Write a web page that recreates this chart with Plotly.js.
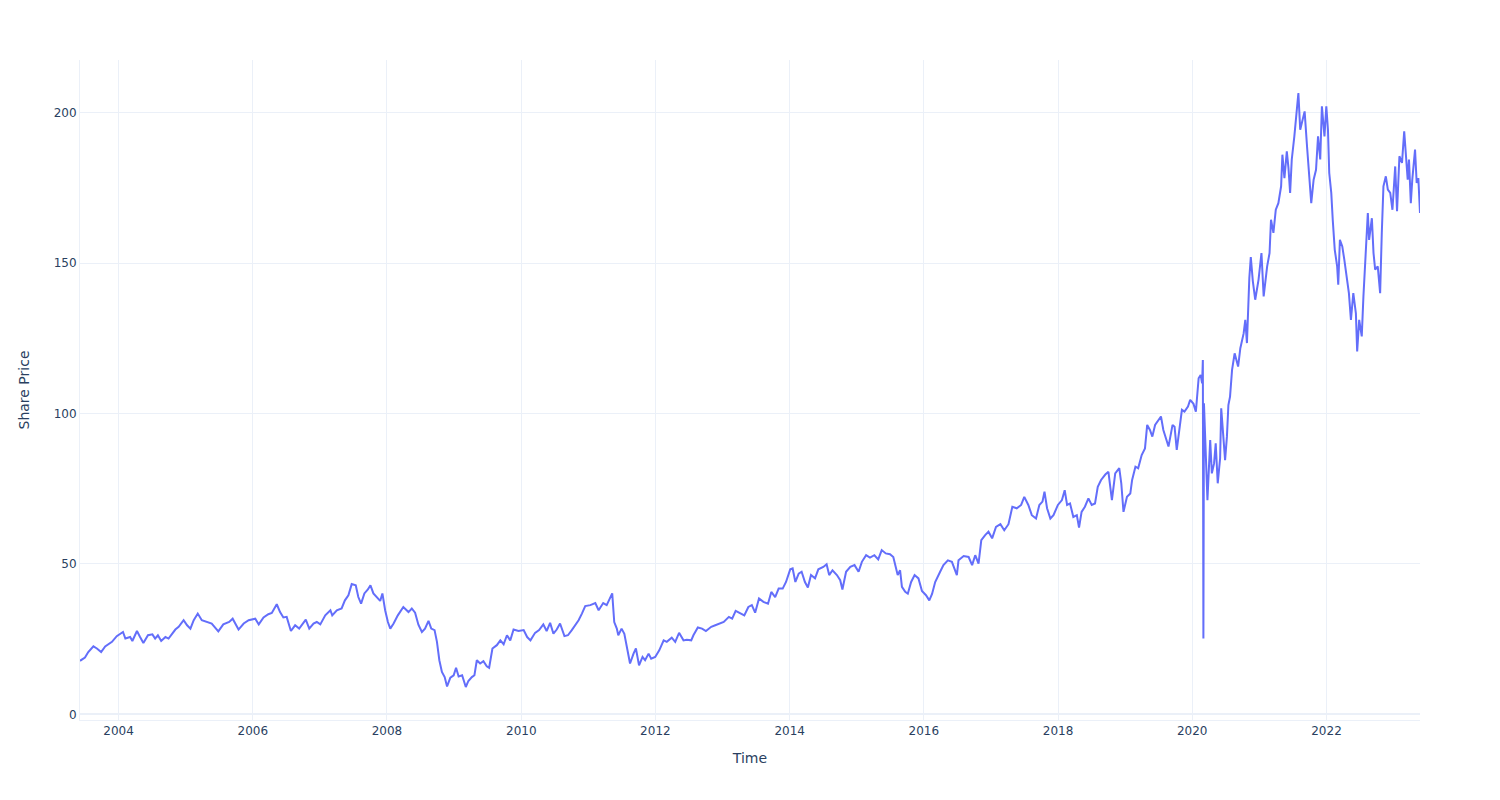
<!DOCTYPE html>
<html>
<head>
<meta charset="utf-8">
<script src="https://cdn.plot.ly/plotly-3.0.1.min.js"></script>
<style>html,body{margin:0;padding:0;background:#fff}#chart{width:1500px;height:800px}</style>
</head>
<body>
<div id="chart"></div>
<script>
const dates = [
"2003-06-05","2003-07-02","2003-07-20","2003-08-17","2003-09-05","2003-09-28","2003-10-20","2003-11-07","2003-11-26","2003-12-22",
"2004-01-25","2004-02-07","2004-03-04","2004-03-16","2004-04-10","2004-04-27","2004-05-15","2004-06-09","2004-07-03","2004-07-18",
"2004-08-02","2004-08-20","2004-09-12","2004-09-29","2004-10-18","2004-11-05","2004-11-23","2004-12-20","2005-01-08","2005-01-26",
"2005-02-13","2005-03-07","2005-03-29","2005-04-25","2005-05-22","2005-06-27","2005-07-24","2005-08-25","2005-09-13","2005-10-15",
"2005-11-12","2005-12-09","2006-01-14","2006-02-02","2006-02-28","2006-03-26","2006-04-14","2006-05-11","2006-05-29","2006-06-16",
"2006-07-04","2006-07-27","2006-08-19","2006-09-10","2006-09-25","2006-10-16","2006-11-04","2006-11-27","2006-12-15","2007-01-03",
"2007-01-30","2007-02-27","2007-03-09","2007-04-03","2007-04-29","2007-05-17","2007-06-05","2007-06-23","2007-07-15","2007-07-29",
"2007-08-13","2007-08-31","2007-09-19","2007-10-03","2007-10-19","2007-11-07","2007-11-25","2007-12-07","2007-12-22","2008-01-06",
"2008-01-19","2008-02-06","2008-02-29","2008-03-30","2008-04-27","2008-05-15","2008-06-02","2008-06-20","2008-07-09","2008-07-26",
"2008-08-14","2008-08-29","2008-09-16","2008-09-29","2008-10-12","2008-10-26","2008-11-10","2008-11-23","2008-12-11","2008-12-29",
"2009-01-11","2009-01-25","2009-02-13","2009-03-05","2009-03-19","2009-04-07","2009-04-21","2009-05-04","2009-05-22","2009-06-09",
"2009-06-27","2009-07-10","2009-07-28","2009-08-21","2009-09-09","2009-09-27","2009-10-15","2009-11-02","2009-11-20","2009-12-17",
"2010-01-14","2010-02-02","2010-02-20","2010-03-17","2010-04-08","2010-05-01","2010-05-19","2010-06-07","2010-06-25","2010-07-13",
"2010-07-31","2010-08-24","2010-09-12","2010-10-03","2010-10-21","2010-11-09","2010-11-27","2010-12-15","2011-01-12","2011-02-08",
"2011-02-26","2011-03-23","2011-04-11","2011-04-29","2011-05-11","2011-05-22","2011-06-05","2011-06-13","2011-07-01","2011-07-16",
"2011-07-29","2011-08-16","2011-09-04","2011-09-17","2011-10-04","2011-10-23","2011-11-06","2011-11-25","2011-12-09","2011-12-31",
"2012-01-22","2012-02-15","2012-03-03","2012-03-30","2012-04-18","2012-05-09","2012-06-02","2012-06-20","2012-07-14","2012-07-26",
"2012-08-19","2012-09-11","2012-10-02","2012-10-31","2012-11-22","2012-12-19","2013-01-07","2013-02-04","2013-02-22","2013-03-13",
"2013-04-06","2013-04-29","2013-05-21","2013-06-09","2013-06-27","2013-07-18","2013-08-11","2013-09-05","2013-09-23","2013-10-14",
"2013-11-02","2013-11-24","2013-12-12","2014-01-04","2014-01-17","2014-02-01","2014-02-19","2014-03-07","2014-03-25","2014-04-10",
"2014-04-27","2014-05-19","2014-06-06","2014-07-03","2014-07-21","2014-08-04","2014-08-22","2014-09-15","2014-10-03","2014-10-15",
"2014-11-04","2014-11-27","2014-12-20","2015-01-11","2015-01-29","2015-02-21","2015-03-14","2015-04-07","2015-04-28","2015-05-17",
"2015-06-08","2015-07-01","2015-07-19","2015-07-28","2015-08-12","2015-08-25","2015-09-04","2015-09-22","2015-10-06","2015-10-24",
"2015-11-12","2015-12-03","2015-12-22","2016-01-13","2016-01-31","2016-02-15","2016-03-03","2016-03-30","2016-04-17","2016-05-11",
"2016-06-02","2016-06-29","2016-07-08","2016-08-05","2016-09-01","2016-09-20","2016-10-07","2016-10-25","2016-11-09","2016-11-30",
"2016-12-18","2017-01-07","2017-01-28","2017-02-21","2017-03-14","2017-04-06","2017-04-27","2017-05-21","2017-06-14","2017-07-01",
"2017-07-23","2017-08-11","2017-09-03","2017-09-21","2017-10-08","2017-10-19","2017-11-02","2017-11-20","2017-12-07","2017-12-31",
"2018-01-22","2018-02-06","2018-02-19","2018-03-07","2018-03-25","2018-04-13","2018-04-25","2018-05-09","2018-05-27","2018-06-15",
"2018-07-03","2018-07-21","2018-08-05","2018-08-23","2018-09-15","2018-10-02","2018-10-21","2018-11-08","2018-11-30","2018-12-11",
"2018-12-23","2019-01-11","2019-01-29","2019-02-08","2019-02-26","2019-03-13","2019-04-01","2019-04-19","2019-05-01","2019-05-16",
"2019-05-29","2019-06-13","2019-06-30","2019-07-15","2019-07-28","2019-08-16","2019-08-25","2019-09-16","2019-09-27","2019-10-09",
"2019-10-22","2019-11-06","2019-11-20","2019-12-09","2019-12-21","2020-01-08","2020-01-21","2020-02-05","2020-02-16","2020-02-24",
"2020-02-28","2020-03-02","2020-03-05","2020-03-24","2020-04-08","2020-04-17","2020-04-29","2020-05-08","2020-05-19","2020-06-01",
"2020-06-07","2020-06-19","2020-06-28","2020-07-08","2020-07-16","2020-07-25","2020-08-05","2020-08-19","2020-09-07","2020-09-19",
"2020-10-07","2020-10-16","2020-10-25","2020-11-07","2020-11-15","2020-11-26","2020-12-09","2020-12-27","2021-01-12","2021-01-24",
"2021-02-12","2021-02-25","2021-03-05","2021-03-18","2021-03-31","2021-04-14","2021-04-29","2021-05-06","2021-05-17","2021-05-30",
"2021-06-08","2021-06-17","2021-06-26","2021-07-10","2021-07-23","2021-08-01","2021-08-11","2021-08-20","2021-09-04","2021-09-17",
"2021-09-26","2021-10-10","2021-10-23","2021-11-05","2021-11-16","2021-11-28","2021-12-07","2021-12-21","2021-12-31","2022-01-09",
"2022-01-16","2022-01-27","2022-02-04","2022-02-15","2022-02-28","2022-03-06","2022-03-15","2022-03-28","2022-04-08","2022-04-21",
"2022-05-03","2022-05-14","2022-05-27","2022-06-10","2022-06-17","2022-06-28","2022-07-12","2022-07-21","2022-08-03","2022-08-14",
"2022-08-21","2022-09-05","2022-09-14","2022-09-23","2022-10-07","2022-10-20","2022-10-29","2022-11-07","2022-11-20","2022-12-01",
"2022-12-14","2022-12-26","2023-01-10","2023-01-20","2023-02-02","2023-02-16","2023-02-28","2023-03-08","2023-03-19","2023-03-26",
"2023-04-05","2023-04-13","2023-04-28","2023-05-07","2023-05-16","2023-05-25"
];
const prices = [
17.8,18.9,20.7,22.6,21.9,20.7,22.6,23.3,24.1,26.0,
27.4,25.2,25.7,24.4,27.7,25.7,23.7,26.3,26.6,25.2,
26.3,24.4,25.7,25.2,26.9,28.2,29.1,31.3,29.6,28.5,
31.3,33.5,31.3,30.7,30.2,27.6,29.9,30.7,31.8,28.2,
30.2,31.3,31.8,29.9,32.2,33.3,33.7,36.6,34.0,32.2,
32.4,27.7,29.6,28.5,29.6,31.5,28.5,30.2,30.7,29.9,
32.9,34.6,32.9,34.6,35.2,37.9,39.6,43.3,42.9,39.0,
36.8,40.2,41.5,42.9,40.2,39.0,37.7,40.2,34.6,30.7,
28.5,30.2,32.9,35.7,34.0,35.2,33.8,29.8,27.4,28.5,
31.1,28.5,28.0,24.1,18.0,14.1,12.4,9.3,12.2,13.0,
15.5,12.6,13.0,9.1,11.1,12.4,13.0,18.0,16.9,17.7,
16.0,15.5,21.9,23.0,24.6,23.3,26.3,24.6,28.2,27.7,
28.0,25.7,24.6,27.1,28.0,29.9,27.7,30.4,26.8,28.2,
30.2,26.0,26.3,28.0,29.6,31.3,33.5,36.0,36.3,37.0,
34.6,37.0,36.3,39.0,40.2,30.7,28.5,26.3,28.5,26.8,
22.4,16.9,20.2,21.9,16.3,19.1,18.0,20.2,18.5,19.1,
21.3,24.6,24.1,25.5,24.1,27.1,24.6,24.8,24.6,26.3,
28.9,28.5,27.7,29.1,29.6,30.2,30.7,32.4,31.8,34.4,
33.5,32.9,35.7,36.3,33.8,38.5,37.4,36.8,40.7,39.0,
41.8,41.8,44.0,48.2,48.5,44.0,46.8,47.4,44.0,42.2,
46.3,45.2,48.2,49.0,49.9,46.3,47.9,46.3,44.6,41.5,
47.4,49.0,49.6,47.4,50.7,52.9,52.1,52.9,51.5,54.6,
53.5,53.2,52.3,49.6,46.3,47.9,42.4,40.7,40.1,44.0,
46.3,45.2,41.0,39.6,37.9,40.0,44.0,47.4,49.6,51.2,
50.7,46.3,51.2,52.6,52.3,49.6,52.9,50.1,57.9,59.6,
60.7,58.5,62.3,63.2,61.2,63.2,69.0,68.5,69.6,72.3,
69.6,66.2,65.1,69.6,70.7,74.0,68.5,65.1,66.2,69.6,
71.2,74.5,69.6,70.1,65.6,66.2,62.1,67.3,69.0,71.8,
69.6,70.1,75.6,77.9,79.7,80.6,71.2,80.1,81.8,76.8,
67.3,72.3,73.4,77.9,82.3,81.8,86.2,88.4,96.2,94.5,
92.3,96.2,97.8,99.0,94.5,90.6,89.0,96.2,95.6,87.9,
93.4,101.2,100.6,102.3,104.5,103.2,100.6,111.7,112.8,110.0,
117.8,25.2,103.4,71.2,91.2,80.1,83.4,90.1,76.8,85.1,
101.7,90.1,84.5,92.3,102.8,105.6,114.5,120.0,115.6,121.7,
126.6,131.1,123.4,145.0,152.0,144.0,137.8,144.4,153.3,138.9,
148.9,153.3,164.4,160.0,167.7,169.9,175.5,186.0,178.2,187.1,
181.6,173.3,184.4,192.1,200.4,206.5,194.3,196.6,200.4,188.8,
182.1,169.9,177.7,181.0,192.1,184.4,202.1,192.1,202.1,194.3,
179.9,173.3,164.4,154.4,148.9,142.8,157.7,155.5,151.1,145.5,
140.0,131.1,140.0,133.3,120.6,131.1,125.6,138.9,154.4,166.6,
157.7,164.9,153.3,147.8,148.9,140.0,160.0,175.5,178.8,174.4,
173.3,167.7,182.1,167.2,185.5,183.3,193.8,187.7,177.7,184.4,
169.9,177.7,187.7,176.6,178.2,166.6
];

const trace = {
  x: dates, y: prices, type: 'scatter', mode: 'lines',
  line: {color: '#636efa', width: 2}, name: 'Share Price', showlegend: false
};
const layout = {
  width: 1500, height: 800,
  margin: {t: 60, b: 80, l: 80, r: 80},
  paper_bgcolor: '#fff', plot_bgcolor: '#fff',
  font: {family: 'DejaVu Sans', color: '#2a3f5f'},
  xaxis: {
    type: 'date', title: {text: 'Time', standoff: 15},
    gridcolor: '#EBF0F8', linecolor: '#EBF0F8', zerolinecolor: '#EBF0F8',
    ticks: '', automargin: true
  },
  yaxis: {
    title: {text: 'Share Price', standoff: 20},
    gridcolor: '#EBF0F8', linecolor: '#EBF0F8', zerolinecolor: '#EBF0F8', zerolinewidth: 2,
    ticks: '', automargin: true
  },
  showlegend: false
};
Plotly.newPlot('chart', [trace], layout, {displayModeBar: false});
</script>
</body>
</html>
